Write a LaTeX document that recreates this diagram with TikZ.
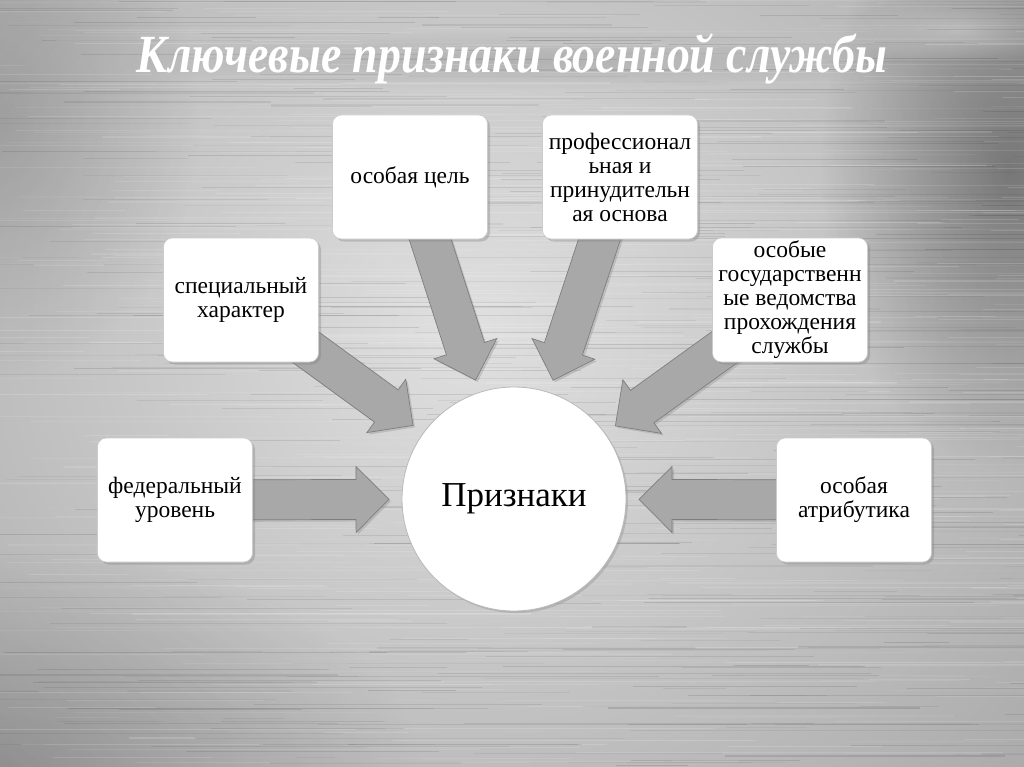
\documentclass[tikz,border=0pt]{standalone}
\usepackage{fontspec}
\setmainfont{Liberation Serif}
\usepackage{graphicx}
\usetikzlibrary{calc,shadows,fadings}
\pgfdeclarelayer{bg}
\pgfdeclarelayer{arr}
\pgfsetlayers{bg,arr,main}
\definecolor{bgbase}{HTML}{989898}
\definecolor{bglight}{HTML}{E0E0E0}
\definecolor{arrfill}{HTML}{A8A8A8}
\definecolor{arrline}{HTML}{7E7E7E}
\tikzfading[name=fadeout, inner color=transparent!0, outer color=transparent!100]
\tikzset{
  card/.style={draw=gray!40, line width=0.6pt, fill=white, rounded corners=9pt,
    minimum width=155pt, minimum height=124pt, align=center, inner sep=1pt,
    font=\fontsize{23.5}{24}\selectfont,
    drop shadow={opacity=0.35, shadow xshift=2.5pt, shadow yshift=-2.5pt}},
  hub/.style={circle, draw=gray!55, line width=0.8pt, fill=white, minimum size=224pt,
    inner sep=0pt, font=\fontsize{35}{40}\selectfont,
    drop shadow={opacity=0.3, shadow xshift=2pt, shadow yshift=-2pt}},
  blockarr/.style={fill=arrfill, draw=arrline, line width=0.7pt, line join=miter,
    drop shadow={opacity=0.3, shadow xshift=2pt, shadow yshift=-2pt}},
  titlestyle/.style={anchor=base, inner sep=0pt, text=white}
}
\newcommand\TitleText{\resizebox{750pt}{1.12\height}{\fontsize{48}{52}\selectfont\bfseries\itshape Ключевые признаки военной службы}}
\newcommand\BlockArrow[2]{%
  \coordinate (tipP) at ($(#2.center)!125pt!(#1.center)$);
  \coordinate (baseP) at ($(#2.center)!158pt!(#1.center)$);
  \draw[blockarr] (tipP) -- ($(baseP)!33pt!90:(tipP)$) -- ($(baseP)!20pt!90:(tipP)$)
    -- ($(#1.center)!20pt!90:(tipP)$) -- ($(#1.center)!20pt!-90:(tipP)$)
    -- ($(baseP)!20pt!-90:(tipP)$) -- ($(baseP)!33pt!-90:(tipP)$) -- cycle;
}
\begin{document}
\begin{tikzpicture}[x=1pt,y=-1pt]
\useasboundingbox (0,0) rectangle (1024,767);
\begin{pgfonlayer}{bg}
  \clip (0,0) rectangle (1024,767);
  \fill[bgbase] (0,0) rectangle (1024,767);
  \shade[inner color=bglight, outer color=bgbase] (-530,-570) rectangle (1470,1230);
  \fill[black, opacity=0.35, path fading=fadeout] (1010,170) ellipse (190 and 300);
  \fill[black, opacity=0.18, path fading=fadeout] (0,767) ellipse (420 and 220);
  \fill[black, opacity=0.15, path fading=fadeout] (0,120) ellipse (200 and 260);
  \fill[white, opacity=0.35, path fading=fadeout] (960,30) ellipse (110 and 35);
  % soft dark glow under the title (its shadow)
  \fill[black, opacity=0.12, path fading=fadeout] (515,60) ellipse (400 and 30);
  \pgfmathsetseed{12345}
  \foreach \i in {1,...,560}{
    \pgfmathsetmacro\yy{rnd*767}
    \pgfmathsetmacro\xx{rnd*1100-80}
    \pgfmathsetmacro\ll{60+rnd*380}
    \pgfmathsetmacro\oo{0.04+rnd*0.12}
    \pgfmathsetmacro\ww{0.3+rnd*1.2}
    \draw[white, opacity=\oo, line width=\ww pt] (\xx,\yy) -- ++(\ll,0);
  }
  \foreach \i in {1,...,380}{
    \pgfmathsetmacro\yy{rnd*767}
    \pgfmathsetmacro\xx{rnd*1100-80}
    \pgfmathsetmacro\ll{60+rnd*380}
    \pgfmathsetmacro\oo{0.03+rnd*0.08}
    \pgfmathsetmacro\ww{0.3+rnd*1.1}
    \draw[black, opacity=\oo, line width=\ww pt] (\xx,\yy) -- ++(\ll,0);
  }
\end{pgfonlayer}

% title
\node[titlestyle] (title) at (512,73) {\TitleText};

% nodes
\node[card] (fed)  at (175,500) {федеральный\\уровень};
\node[card] (spec) at (241,300) {специальный\\характер};
\node[card] (goal) at (410,177) {особая цель};
\node[card] (prof) at (620,177) {профессионал\\ьная и\\принудительн\\ая основа};
\node[card] (gov)  at (790,300) {особые\\государственн\\ые ведомства\\прохождения\\службы};
\node[card] (attr) at (854,500) {особая\\атрибутика};
\node[hub]  (hub)  at (514,499) {Признаки};

% block arrows behind the cards
\begin{pgfonlayer}{arr}
  \BlockArrow{fed}{hub}
  \BlockArrow{spec}{hub}
  \BlockArrow{goal}{hub}
  \BlockArrow{prof}{hub}
  \BlockArrow{gov}{hub}
  \BlockArrow{attr}{hub}
\end{pgfonlayer}
\end{tikzpicture}
\end{document}
